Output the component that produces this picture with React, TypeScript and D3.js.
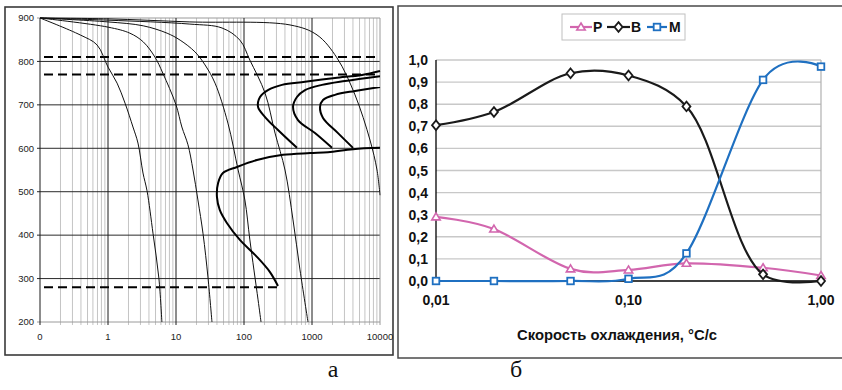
import React from 'react';
import * as d3 from 'd3';

// ---------- Panel "а": cooling curves on log time axis ----------
const leftTempTicks = [200, 300, 400, 500, 600, 700, 800, 900];
const leftTimeTicks = [0.1, 1, 10, 100, 1000, 10000];
const leftTimeLabels = ['0', '1', '10', '100', '1000', '10000'];

const cooling1 = [[0.1, 900], [0.39, 861], [0.69, 838], [1.0, 787], [1.36, 750], [1.78, 704], [2.33, 649], [2.76, 612], [3.27, 543], [3.75, 502], [4.6, 403], [5.6, 301], [6.2, 200]];
const cooling2 = [[0.1, 900], [1, 879], [2.1, 865], [3.3, 845], [4.9, 810], [6.4, 773], [10, 700], [12.2, 649], [15, 608], [17.8, 550], [21, 481], [25, 403], [29.6, 301], [33.8, 200]];
const cooling3 = [[0.1, 900], [1, 891], [3.3, 882], [7.4, 865], [11.5, 849], [19, 822], [26.7, 792], [37.5, 750], [58, 658], [82, 550], [103, 481], [122, 389], [161, 251], [178, 200]];
const cooling4 = [[0.1, 900], [1, 895], [16, 886], [47.5, 877], [87, 849], [122, 803], [204, 727], [286, 635], [401, 550], [526, 435], [666, 320], [873, 200]];
const cooling5 = [[0.1, 900], [1, 898], [16, 891], [475, 884], [1185, 861], [2333, 808], [4289, 723], [7126, 619], [9035, 550], [10000, 492]];

const noseA = [[601, 601], [316, 642], [204, 672], [161, 695], [172, 718], [225, 734], [362, 746], [789, 753], [2178, 762], [5435, 769], [10000, 778]];
const noseB = [[1968, 601], [1106, 635], [622, 665], [526, 695], [601, 718], [789, 734], [1403, 746], [3055, 755], [10000, 766]];
const noseC = [[4010, 601], [2412, 635], [1452, 670], [1312, 695], [1452, 711], [2178, 723], [4289, 732], [10000, 741]];
const lowerC = [[316, 283], [241, 315], [155, 350], [87, 389], [56, 428], [44, 458], [40, 488], [41.6, 520], [49, 543], [79, 557], [155, 573], [375, 585], [935, 589], [1719, 591], [4010, 598], [10000, 601]];

const coolingCurves = [cooling1, cooling2, cooling3, cooling4, cooling5];
const transformCurves = [noseA, noseB, noseC, lowerC];
const dashedLevels = [810, 770, 280];
const dashedEnds = [10000, 10000, 316];

// ---------- Panel "б": phase fractions vs cooling rate ----------
const rates = [0.01, 0.02, 0.05, 0.1, 0.2, 0.5, 1.0];
const seriesP = [0.29, 0.235, 0.055, 0.05, 0.08, 0.06, 0.025];
const seriesB = [0.705, 0.765, 0.94, 0.93, 0.79, 0.03, 0.0];
const seriesM = [0, 0, 0, 0.01, 0.125, 0.91, 0.97];
const seriesNames = ['P', 'B', 'M'];
const rightYTicks = [0, 0.1, 0.2, 0.3, 0.4, 0.5, 0.6, 0.7, 0.8, 0.9, 1.0];
const rightXTicks = [0.01, 0.1, 1];
const rightXLabels = ['0,01', '0,10', '1,00'];
const xTitle = 'Скорость охлаждения, °С/с';
const panelLabels = ['а', 'б'];

const NARROW = "'Liberation Sans Narrow', 'Arial Narrow', 'Liberation Sans', Arial, sans-serif";
const SERIF = "'Liberation Serif', 'Times New Roman', serif";
const COLORS = ['#d266ae', '#1a1a1a', '#1f70c1'];

function marker(kind: string, cx: number, cy: number, color: string, key: string) {
  if (kind === 'P') {
    const p = `M${cx},${cy - 4}L${cx + 4.2},${cy + 3}L${cx - 4.2},${cy + 3}Z`;
    return <path key={key} d={p} fill="#fff" stroke={color} strokeWidth={1.6} />;
  }
  if (kind === 'B') {
    const p = `M${cx},${cy - 4.8}L${cx + 4},${cy}L${cx},${cy + 4.8}L${cx - 4},${cy}Z`;
    return <path key={key} d={p} fill="#fff" stroke={color} strokeWidth={1.8} />;
  }
  return <rect key={key} x={cx - 3.3} y={cy - 3.3} width={6.6} height={6.6} fill="#fff" stroke={color} strokeWidth={1.8} />;
}

export default function App() {
  // left scales
  const lx = d3.scaleLog().domain([0.1, 10000]).range([40, 380]);
  const ly = d3.scaleLinear().domain([200, 900]).range([322, 18]);
  const leftLine = d3.line<number[]>().x(d => lx(d[0])).y(d => ly(d[1])).curve(d3.curveCatmullRom.alpha(0.5));

  const minorTimes: number[] = [];
  for (const dec of [0.1, 1, 10, 100, 1000]) {
    for (let m = 2; m <= 9; m++) minorTimes.push(dec * m);
  }

  // right scales
  const rx = d3.scaleLog().domain([0.01, 1]).range([436, 821]);
  const ry = d3.scaleLinear().domain([0, 1]).range([281, 60]);
  const curves = [d3.curveCardinal.tension(0), d3.curveCatmullRom.alpha(0.5), d3.curveCardinal.tension(0)];
  const allSeries = [seriesP, seriesB, seriesM];
  const fmt = (v: number) => d3.format('.1f')(v).replace('.', ',');

  const legendItems = [
    { name: seriesNames[0], x0: 570, x1: 592, tx: 593 },
    { name: seriesNames[1], x0: 607, x1: 630, tx: 631 },
    { name: seriesNames[2], x0: 647, x1: 667, tx: 669 },
  ];

  return (
    <svg width={842} height={390} style={{ position: 'absolute', left: 0, top: 0, background: '#fff' }}>
      <rect x={0} y={0} width={842} height={390} fill="#fff" />
      {/* ---------- Panel а ---------- */}
      <rect x={5} y={7} width={388} height={348} fill="#fff" stroke="#3a3a3a" strokeWidth={1.6} />
      {minorTimes.map((t, i) => (
        <line key={'mn' + i} x1={lx(t)} x2={lx(t)} y1={ly(900)} y2={ly(200) + 3} stroke="#c4c4c4" strokeWidth={1} />
      ))}
      {leftTempTicks.map((v, i) => (
        <line key={'hg' + i} x1={lx(0.1) - 3} x2={lx(10000)} y1={ly(v)} y2={ly(v)}
          stroke={v === 900 || v === 200 ? '#9a9a9a' : '#2a2a2a'} strokeWidth={1} />
      ))}
      {leftTimeTicks.map((t, i) => (
        <line key={'vg' + i} x1={lx(t)} x2={lx(t)} y1={ly(900)} y2={ly(200) + 3}
          stroke={t === 10000 ? '#9a9a9a' : '#1a1a1a'} strokeWidth={1} />
      ))}
      {leftTempTicks.map((v, i) => (
        <text key={'yl' + i} x={34} y={ly(v)} dy="0.35em" textAnchor="end" fontFamily={NARROW} fontSize={9.5} fill="#222">{v}</text>
      ))}
      {leftTimeTicks.map((t, i) => (
        <text key={'xl' + i} x={lx(t)} y={340} textAnchor="middle" fontFamily={NARROW} fontSize={9.5} fill="#222">{leftTimeLabels[i]}</text>
      ))}
      {dashedLevels.map((v, i) => (
        <line key={'dl' + i} x1={lx(0.1) + 4} x2={lx(dashedEnds[i])} y1={ly(v)} y2={ly(v)}
          stroke="#000" strokeWidth={2} strokeDasharray="9 5" />
      ))}
      {coolingCurves.map((c, i) => (
        <path key={'cc' + i} d={leftLine(c) || ''} fill="none" stroke="#111" strokeWidth={1} />
      ))}
      {transformCurves.map((c, i) => (
        <path key={'tc' + i} d={leftLine(c) || ''} fill="none" stroke="#000" strokeWidth={2} />
      ))}

      {/* ---------- Panel б ---------- */}
      <rect x={398} y={6} width={450} height={352} fill="none" stroke="#4a4a4a" strokeWidth={1.5} />
      {rightYTicks.filter(v => v > 0).map((v, i) => (
        <line key={'rg' + i} x1={rx(0.01)} x2={rx(1)} y1={ry(v)} y2={ry(v)} stroke="#c8c8c8" strokeWidth={1.4} />
      ))}
      <line x1={rx(1)} x2={rx(1)} y1={ry(1)} y2={ry(0)} stroke="#b0b0b0" strokeWidth={1.2} />
      <line x1={rx(0.01)} x2={rx(0.01)} y1={ry(1)} y2={ry(0)} stroke="#000" strokeWidth={1.3} />
      <line x1={rx(0.01)} x2={rx(1)} y1={ry(0)} y2={ry(0)} stroke="#000" strokeWidth={1.3} />
      {rightYTicks.map((v, i) => (
        <text key={'ry' + i} x={428} y={ry(v)} dy="0.36em" textAnchor="end" fontFamily={NARROW} fontWeight="bold" fontSize={14} fill="#111">{fmt(v)}</text>
      ))}
      {rightXTicks.map((t, i) => (
        <text key={'rx' + i} x={rx(t)} y={305} textAnchor="middle" fontFamily={NARROW} fontWeight="bold" fontSize={14} fill="#111">{rightXLabels[i]}</text>
      ))}
      <text x={617} y={340} textAnchor="middle" fontFamily={NARROW} fontWeight="bold" fontSize={14.8} fill="#111">{xTitle}</text>
      {allSeries.map((s, si) => {
        const ln = d3.line<number>().x((_, i) => rx(rates[i])).y(d => ry(d)).curve(curves[si]);
        return (
          <g key={'s' + si}>
            <path d={ln(s) || ''} fill="none" stroke={COLORS[si]} strokeWidth={2.2} />
            {s.map((v, i) => marker(seriesNames[si], rx(rates[i]), ry(v), COLORS[si], 'm' + si + '-' + i))}
          </g>
        );
      })}
      {/* legend */}
      <rect x={562} y={14} width={123} height={26} fill="#fff" stroke="#c0c0c0" strokeWidth={1} />
      {legendItems.map((it, i) => (
        <g key={'lg' + i}>
          <line x1={it.x0} x2={it.x1} y1={27} y2={27} stroke={COLORS[i]} strokeWidth={2.2} />
          {marker(it.name, (it.x0 + it.x1) / 2, 27, COLORS[i], 'lm' + i)}
          <text x={it.tx} y={32} fontFamily={NARROW} fontWeight="bold" fontSize={14} fill="#111">{it.name}</text>
        </g>
      ))}

      {/* panel letters */}
      <text x={333} y={377} textAnchor="middle" fontFamily={SERIF} fontSize={24} fill="#111">{panelLabels[0]}</text>
      <text x={516} y={377} textAnchor="middle" fontFamily={SERIF} fontSize={24} fill="#111">{panelLabels[1]}</text>
    </svg>
  );
}
